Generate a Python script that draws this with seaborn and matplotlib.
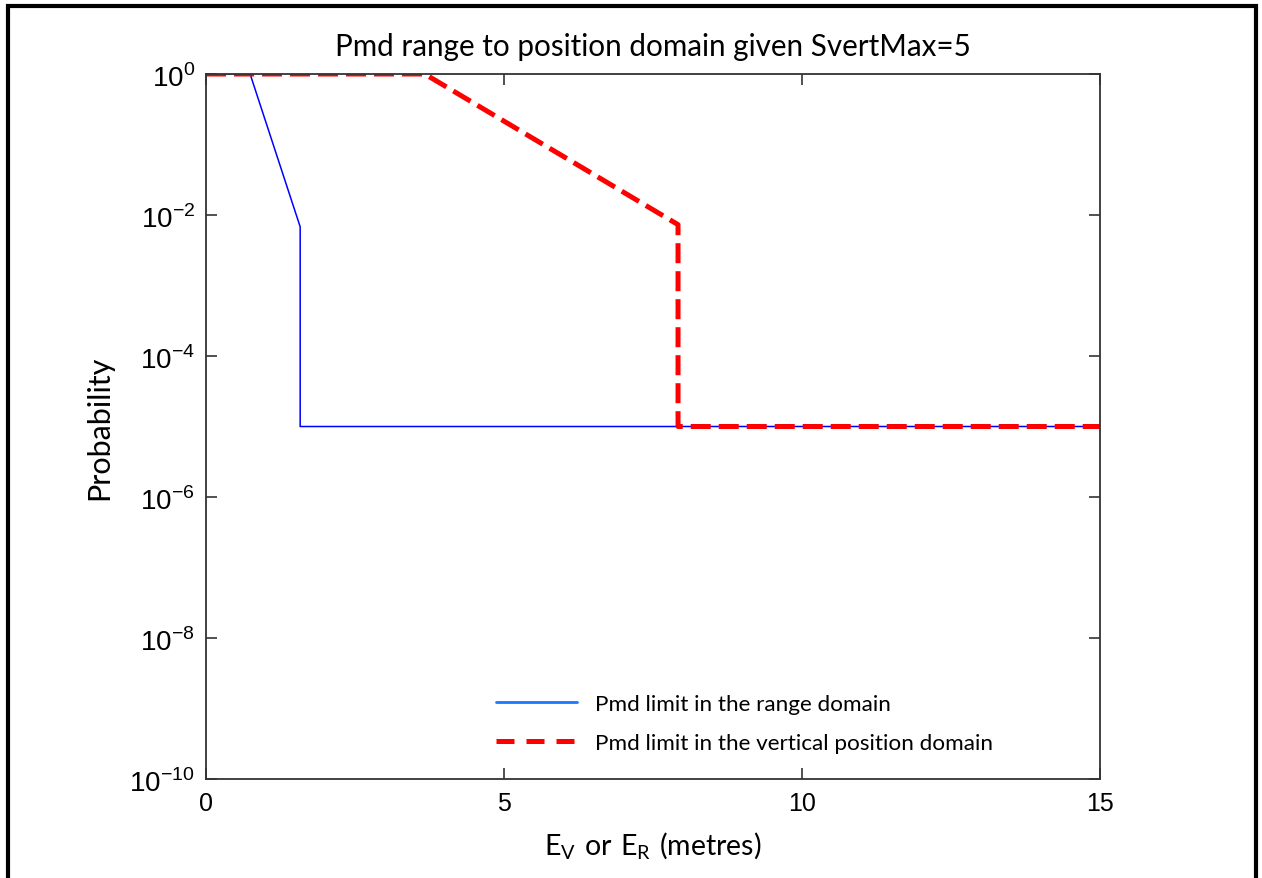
import matplotlib
matplotlib.use("Agg")
import matplotlib.pyplot as plt
from matplotlib.lines import Line2D
import numpy as np
import pandas as pd
import seaborn as sns

# Error threshold (metres) against probability limits
range_x = [0.0, 0.74, 1.58, 1.58, 15.0]
range_p = [1.0, 1.0, 0.0068, 1e-5, 1e-5]
vert_x = [0.0, 3.67, 7.92, 7.92, 15.0]
vert_p = [1.0, 1.0, 0.0073, 1e-5, 1e-5]

range_label = "Pmd limit in the range domain"
vert_label = "Pmd limit in the vertical position domain"
title = "Pmd range to position domain given SvertMax=5"
x_ticks = [0, 5, 10, 15]
y_exponents = [0, -2, -4, -6, -8, -10]

sns.set_theme(style="ticks")
plt.rcParams["font.family"] = ["Lato", "DejaVu Sans"]
plt.rcParams["mathtext.fontset"] = "custom"
plt.rcParams["mathtext.rm"] = "Liberation Sans"
plt.rcParams["mathtext.sf"] = "Lato"
plt.rcParams["text.color"] = "black"
plt.rcParams["axes.labelcolor"] = "black"

range_df = pd.DataFrame({"x": range_x, "p": range_p})
vert_df = pd.DataFrame({"x": vert_x, "p": vert_p})

fig = plt.figure(figsize=(12.62, 8.79), dpi=100)
ax = fig.add_axes([206 / 1262, 1 - 780 / 879, (1100 - 206) / 1262, (780 - 75) / 879])

sns.lineplot(data=range_df, x="x", y="p", ax=ax, estimator=None, sort=False,
             color="#0000ff", linewidth=1.1, label=range_label)
sns.lineplot(data=vert_df, x="x", y="p", ax=ax, estimator=None, sort=False,
             color="#ff0000", linewidth=3.6, label=vert_label,
             linestyle=(0, (4.0, 1.6)))

ax.set_yscale("log")
ax.set_xlim(0, 15)
ax.set_ylim(1e-10, 1)
ax.set_xticks(x_ticks)
ax.set_xticklabels([str(t) for t in x_ticks])
ax.set_yticks([10.0 ** e for e in y_exponents])
ax.set_yticklabels([r"$10^{%d}$" % e for e in y_exponents])
ax.yaxis.set_minor_locator(matplotlib.ticker.NullLocator())

ax.tick_params(direction="in", length=8, width=1.2, color="#333333",
               top=True, right=True, labelcolor="black")
ax.tick_params(axis="x", pad=9, labelsize=18)
ax.tick_params(axis="y", pad=8, labelsize=20)
for lab in ax.get_xticklabels():
    lab.set_fontfamily("Liberation Sans")
for s in ax.spines.values():
    s.set_color("#333333")
    s.set_linewidth(1.3)
    s.set_visible(True)

ax.set_title(title, fontsize=21.3, pad=14, color="black")
ax.set_xlabel(r"$\mathsf{E_{V}\ or\ E_{R}\ (metres)}$", fontsize=20.5, labelpad=10)
ax.set_ylabel("Probability", fontsize=22, labelpad=12)

handles = [Line2D([], [], color="#1a75ff", linewidth=2.0),
           Line2D([], [], color="#ff0000", linewidth=3.6, linestyle=(0, (3.6, 2.4)))]
ax.legend(handles, [range_label, vert_label], loc="center left",
          bbox_to_anchor=(485 / 1262, 1 - 724.5 / 879), bbox_transform=fig.transFigure,
          frameon=False, borderpad=0, fontsize=16.2, handlelength=3.6,
          handletextpad=0.8, labelspacing=0.85)

# outer frame
fx0, fx1, fy1 = 7.5 / 1262, 1255.5 / 1262, 1 - 7 / 879
fig.add_artist(Line2D([fx0, fx0, fx1, fx1], [0, fy1, fy1, 0], transform=fig.transFigure,
                      color="black", linewidth=3.0, solid_joinstyle="miter"))

fig.savefig("out.png", dpi=100)
